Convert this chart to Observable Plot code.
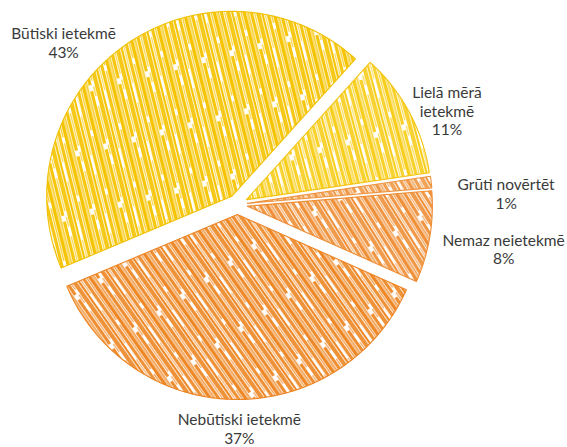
<!DOCTYPE html>
<html>
<head>
<meta charset="utf-8">
<script src="https://cdn.jsdelivr.net/npm/d3@7"></script>
<script src="https://cdn.jsdelivr.net/npm/@observablehq/plot@0.6"></script>
<style>
  html, body { margin: 0; padding: 0; background: #ffffff; }
  #chart { width: 567px; height: 447px; overflow: hidden; }
</style>
</head>
<body>
<div id="chart"></div>
<script>
// ---- data ----
const categories = ["Lielā mērā ietekmē", "Grūti novērtēt", "Nemaz neietekmē", "Nebūtiski ietekmē", "Būtiski ietekmē"];
const labelLines = [["Lielā mērā", "ietekmē"], ["Grūti novērtēt"], ["Nemaz neietekmē"], ["Nebūtiski ietekmē"], ["Būtiski ietekmē"]];
const values = [11, 1, 8, 37, 43];
const percentLabels = ["11%", "1%", "8%", "37%", "43%"];

// ---- style / layout ----
const fills = ["#F8CE1C", "#F09A48", "#EF9038", "#EE8826", "#F5C300"];
const outlines = ["#F3C310", "#EE9440", "#EE8C34", "#EC8424", "#F1C000"];
const hatchAngles = [-15, -30, -32, -35, -14];
const labelNudge = [[27, 4], [63, 13], [62, 10], [4, 17], [-54, 7]];
const startDeg = 42;
const explode = 10 / 185;   // in radius units
const labelR = 207 / 185;

// pie geometry (unit radius), through d3.pie
const pie = d3.pie().sort(null).value(d => d)
  .startAngle(startDeg * Math.PI / 180)
  .endAngle(startDeg * Math.PI / 180 + 2 * Math.PI);
const arcs = pie(values);

const points = [];
const labels = [];
arcs.forEach((a, i) => {
  const m = (a.startAngle + a.endAngle) / 2;
  const ox = explode * Math.sin(m), oy = explode * Math.cos(m);
  points.push({slice: i, x: ox, y: oy});
  const n = Math.max(2, Math.ceil((a.endAngle - a.startAngle) / (Math.PI / 180)));
  for (let k = 0; k <= n; k++) {
    const t = a.startAngle + (a.endAngle - a.startAngle) * k / n;
    points.push({slice: i, x: ox + Math.sin(t), y: oy + Math.cos(t)});
  }
  labels.push({
    i,
    x: labelR * Math.sin(m),
    y: labelR * Math.cos(m),
    text: [...labelLines[i], percentLabels[i]].join("\n")
  });
});

// hatch strokes of one pattern tile: [x, width, y, height, opacity]
const stripes = [
  [0, 3.5, 0, 60, 1], [4.3, 2, 0, 60, 0.8], [7, 3, 0, 44, 0.95], [7, 3, 50, 10, 0.95],
  [10.8, 1.5, 6, 34, 0.7], [10.8, 1.5, 46, 10, 0.7], [13, 4, 0, 60, 0.9],
  [17.8, 2.2, 0, 60, 1], [20.8, 1.2, 12, 40, 0.6], [22.8, 3.2, 0, 60, 0.92],
  [26.8, 1.6, 0, 28, 0.8], [26.8, 1.6, 34, 26, 0.8]
];
const tileW = 29, tileH = 60;

function defsMark() {
  const defs = d3.create("svg:defs");
  fills.forEach((c, i) => {
    const p = defs.append("pattern")
      .attr("id", "hatch" + i)
      .attr("patternUnits", "userSpaceOnUse")
      .attr("width", tileW).attr("height", tileH)
      .attr("patternTransform", `rotate(${hatchAngles[i]})`);
    stripes.forEach(([x, w, y0, h, o]) => {
      p.append("rect").attr("x", x).attr("y", y0).attr("width", w).attr("height", h)
        .attr("fill", c).attr("fill-opacity", o);
    });
  });
  return defs.node();
}

const R = 185;
const cx = 237, cy = 204;
const W = 567, H = 447;

const chart = Plot.plot({
  width: W,
  height: H,
  margin: 0,
  x: {domain: [-cx / R, (W - cx) / R], range: [0, W], axis: null},
  y: {domain: [-(H - cy) / R, cy / R], range: [H, 0], axis: null},
  style: {background: "#ffffff"},
  marks: [
    defsMark,
    ...arcs.map((a, i) => Plot.line(points.filter(p => p.slice === i), {
      x: "x", y: "y", curve: "linear-closed",
      fill: `url(#hatch${i})`, stroke: outlines[i], strokeWidth: 1.1
    })),
    ...labels.map(l => Plot.text([l], {
      x: "x", y: "y", text: "text",
      dx: labelNudge[l.i][0], dy: labelNudge[l.i][1],
      fontSize: 15.5, fontFamily: "Lato", fill: "#3a3a3a",
      lineHeight: 1.19, textAnchor: "middle", lineAnchor: "middle"
    }))
  ]
});
document.getElementById("chart").appendChild(chart);
</script>
</body>
</html>
